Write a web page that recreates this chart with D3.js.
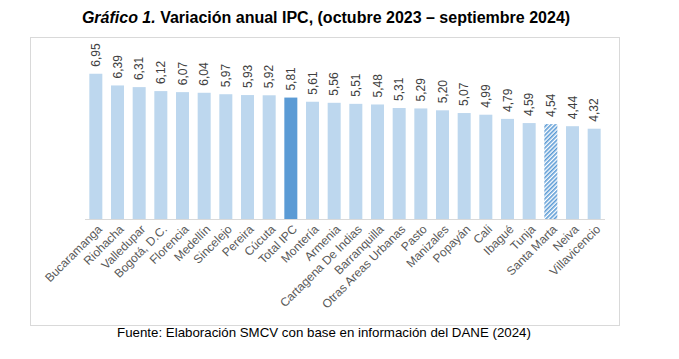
<!DOCTYPE html>
<meta charset="utf-8">
<style>
  body { margin: 0; background: #fff; }
  text { font-family: Arial, "Liberation Sans", sans-serif; }
</style>
<body>
<script src="https://d3js.org/d3.v7.min.js"></script>
<script>

var width = 679,
    height = 359;

// data
var ciudades = ["Bucaramanga", "Riohacha", "Valledupar", "Bogotá, D.C.", "Florencia", "Medellín",
  "Sincelejo", "Pereira", "Cúcuta", "Total IPC", "Montería", "Armenia", "Cartagena De Indias",
  "Barranquilla", "Otras Areas Urbanas", "Pasto", "Manizales", "Popayán", "Cali", "Ibagué",
  "Tunja", "Santa Marta", "Neiva", "Villavicencio"];
var variacion = [6.95, 6.39, 6.31, 6.12, 6.07, 6.04, 5.97, 5.93, 5.92, 5.81, 5.61, 5.56, 5.51,
  5.48, 5.31, 5.29, 5.20, 5.07, 4.99, 4.79, 4.59, 4.54, 4.44, 4.32];
var total = "Total IPC",
    destacada = "Santa Marta";

var svg = d3.select("body").append("svg")
    .attr("width", width)
    .attr("height", height);

var defs = svg.append("defs");
var pat = defs.append("pattern")
    .attr("id", "rayas")
    .attr("patternUnits", "userSpaceOnUse")
    .attr("width", 3)
    .attr("height", 3)
    .attr("patternTransform", "rotate(45)");
pat.append("rect").attr("width", 3).attr("height", 3).attr("fill", "#fff");
pat.append("rect").attr("width", 1.6).attr("height", 3).attr("fill", "#5B9BD5");

// title
var title = svg.append("text")
    .attr("x", 326)
    .attr("y", 23)
    .attr("text-anchor", "middle")
    .style("font-size", "16px")
    .style("font-weight", "bold")
    .attr("fill", "#000");
title.append("tspan").style("font-style", "italic").text("Gráfico 1.");
title.append("tspan").text(" Variación anual IPC, (octubre 2023 – septiembre 2024)");

// frame
svg.append("rect")
    .attr("x", 30.5)
    .attr("y", 37.5)
    .attr("width", 589)
    .attr("height", 288)
    .attr("fill", "none")
    .attr("stroke", "#D9D9D9");

var x = d3.scaleBand()
    .domain(ciudades)
    .range([85, 605])
    .paddingInner(0.4)
    .paddingOuter(0.2);

var y = d3.scaleLinear()
    .domain([0, 7])
    .range([219, 72.7]);

var data = ciudades.map(function(c, i) { return {c: c, v: variacion[i]}; });

svg.selectAll(".bar")
  .data(data)
  .enter().append("rect")
    .attr("class", "bar")
    .attr("x", function(d) { return x(d.c); })
    .attr("y", function(d) { return y(d.v); })
    .attr("width", x.bandwidth())
    .attr("height", function(d) { return y(0) - y(d.v); })
    .attr("fill", function(d) {
      if (d.c === total) return "#5B9BD5";
      if (d.c === destacada) return "url(#rayas)";
      return "#BDD7EE";
    });

// value labels
svg.selectAll(".val")
  .data(data)
  .enter().append("text")
    .attr("class", "val")
    .attr("transform", function(d) {
      return "translate(" + (x(d.c) + x.bandwidth() / 2 + 4) + "," + (y(d.v) - 7) + ") rotate(-90)";
    })
    .style("font-size", "12px")
    .attr("fill", "#404040")
    .text(function(d) { return d3.format(".2f")(d.v).replace(".", ","); });

// x axis
var xAxis = svg.append("g")
    .attr("transform", "translate(0," + y(0) + ")")
    .call(d3.axisBottom(x).tickSize(0).tickPadding(0));
xAxis.select(".domain").attr("stroke", "#D9D9D9").attr("d", "M85,0.5H605");
xAxis.selectAll("text")
    .attr("transform", "translate(4,8) rotate(-45)")
    .attr("text-anchor", "end")
    .attr("dy", "0.35em")
    .attr("y", 0)
    .attr("x", 0)
    .style("font-size", "12px")
    .style("font-family", "Arial, 'Liberation Sans', sans-serif")
    .attr("fill", "#595959");

// source
svg.append("text")
    .attr("x", 324)
    .attr("y", 337)
    .attr("text-anchor", "middle")
    .style("font-size", "13.3px")
    .attr("fill", "#000")
    .text("Fuente: Elaboración SMCV con base en información del DANE (2024)");

</script>
